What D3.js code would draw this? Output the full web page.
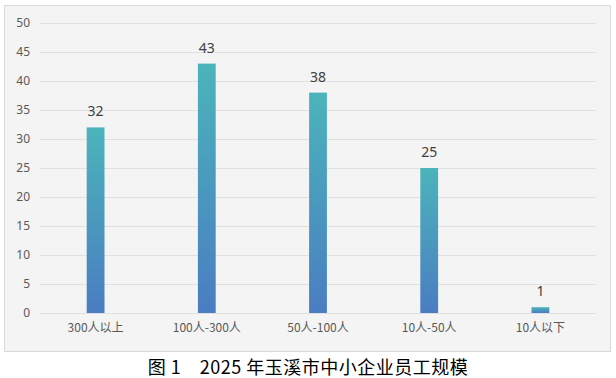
<!DOCTYPE html>
<html lang="zh">
<head>
  <meta charset="UTF-8">
  <title>2025年玉溪市中小企业员工规模</title>
  <script src="https://d3js.org/d3.v7.min.js"></script>
  <style>
    body { margin: 0; background: #fff; font-family: "Noto Sans CJK SC", sans-serif; }
  </style>
</head>
<body>
  <div id="viz"></div>
  <script>
    const categories = ['300人以上', '100人-300人', '50人-100人', '10人-50人', '10人以下'];
    const values = [32, 43, 38, 25, 1];
    const yTicks = [0, 5, 10, 15, 20, 25, 30, 35, 40, 45, 50];

    const width = 616, height = 378;
    const margin = {top: 23, right: 20, bottom: 65, left: 40};

    const svg = d3.select('#viz').append('svg')
      .attr('width', width).attr('height', height);

    // chart box
    svg.append('rect')
      .attr('x', 4.5).attr('y', 5.5)
      .attr('width', 606).attr('height', 346)
      .attr('fill', '#f4f4f4').attr('stroke', '#d9d9d9');

    const defs = svg.append('defs');
    const grad = defs.append('linearGradient')
      .attr('id', 'barGrad').attr('x1', 0).attr('y1', 0).attr('x2', 0).attr('y2', 1);
    grad.append('stop').attr('offset', '0%').attr('stop-color', '#4bb4bb');
    grad.append('stop').attr('offset', '100%').attr('stop-color', '#4a7dc2');

    const x = d3.scaleBand()
      .domain(categories)
      .range([margin.left, width - margin.right])
      .paddingInner(0.84).paddingOuter(0.42);

    const y = d3.scaleLinear()
      .domain([0, 50])
      .range([313, margin.top]);

    // gridlines
    svg.append('g')
      .selectAll('line').data(yTicks).join('line')
      .attr('x1', margin.left).attr('x2', width - margin.right)
      .attr('y1', d => Math.round(y(d)) + 0.5).attr('y2', d => Math.round(y(d)) + 0.5)
      .attr('stroke', '#e0e0e0').attr('stroke-width', 1);

    // y axis labels
    const yAxis = d3.axisLeft(y).tickValues(yTicks).tickSize(0).tickPadding(0);
    svg.append('g')
      .attr('transform', `translate(30,0)`)
      .call(yAxis)
      .call(g => g.select('.domain').remove())
      .selectAll('text')
      .attr('fill', '#595959')
      .style('font-family', '"Noto Sans", "Open Sans", sans-serif')
      .style('font-size', '12px');

    // x axis labels
    const xAxis = d3.axisBottom(x).tickSize(0).tickPadding(0);
    svg.append('g')
      .attr('transform', `translate(0,323)`)
      .call(xAxis)
      .call(g => g.select('.domain').remove())
      .selectAll('text')
      .attr('fill', '#595959')
      .style('font-family', '"Noto Sans CJK SC", sans-serif')
      .style('font-size', '12px');

    // bars
    svg.append('g')
      .selectAll('rect').data(values).join('rect')
      .attr('x', (d, i) => x(categories[i]))
      .attr('width', x.bandwidth())
      .attr('y', d => y(d))
      .attr('height', d => y(0) - y(d))
      .attr('fill', 'url(#barGrad)');

    // value labels
    svg.append('g')
      .selectAll('text').data(values).join('text')
      .attr('x', (d, i) => x(categories[i]) + x.bandwidth() / 2)
      .attr('y', d => y(d) - 11)
      .attr('text-anchor', 'middle')
      .attr('fill', '#404040')
      .style('font-family', '"Noto Sans", "Open Sans", sans-serif')
      .style('font-size', '14px')
      .text(d => d);

    // caption
    svg.append('text')
      .attr('x', 308).attr('y', 374)
      .attr('text-anchor', 'middle')
      .attr('fill', '#000')
      .style('font-family', '"Noto Sans CJK SC", sans-serif')
      .style('font-size', '18px')
      .style('letter-spacing', '0.5px')
      .text('图 1　2025 年玉溪市中小企业员工规模');
  </script>
</body>
</html>
